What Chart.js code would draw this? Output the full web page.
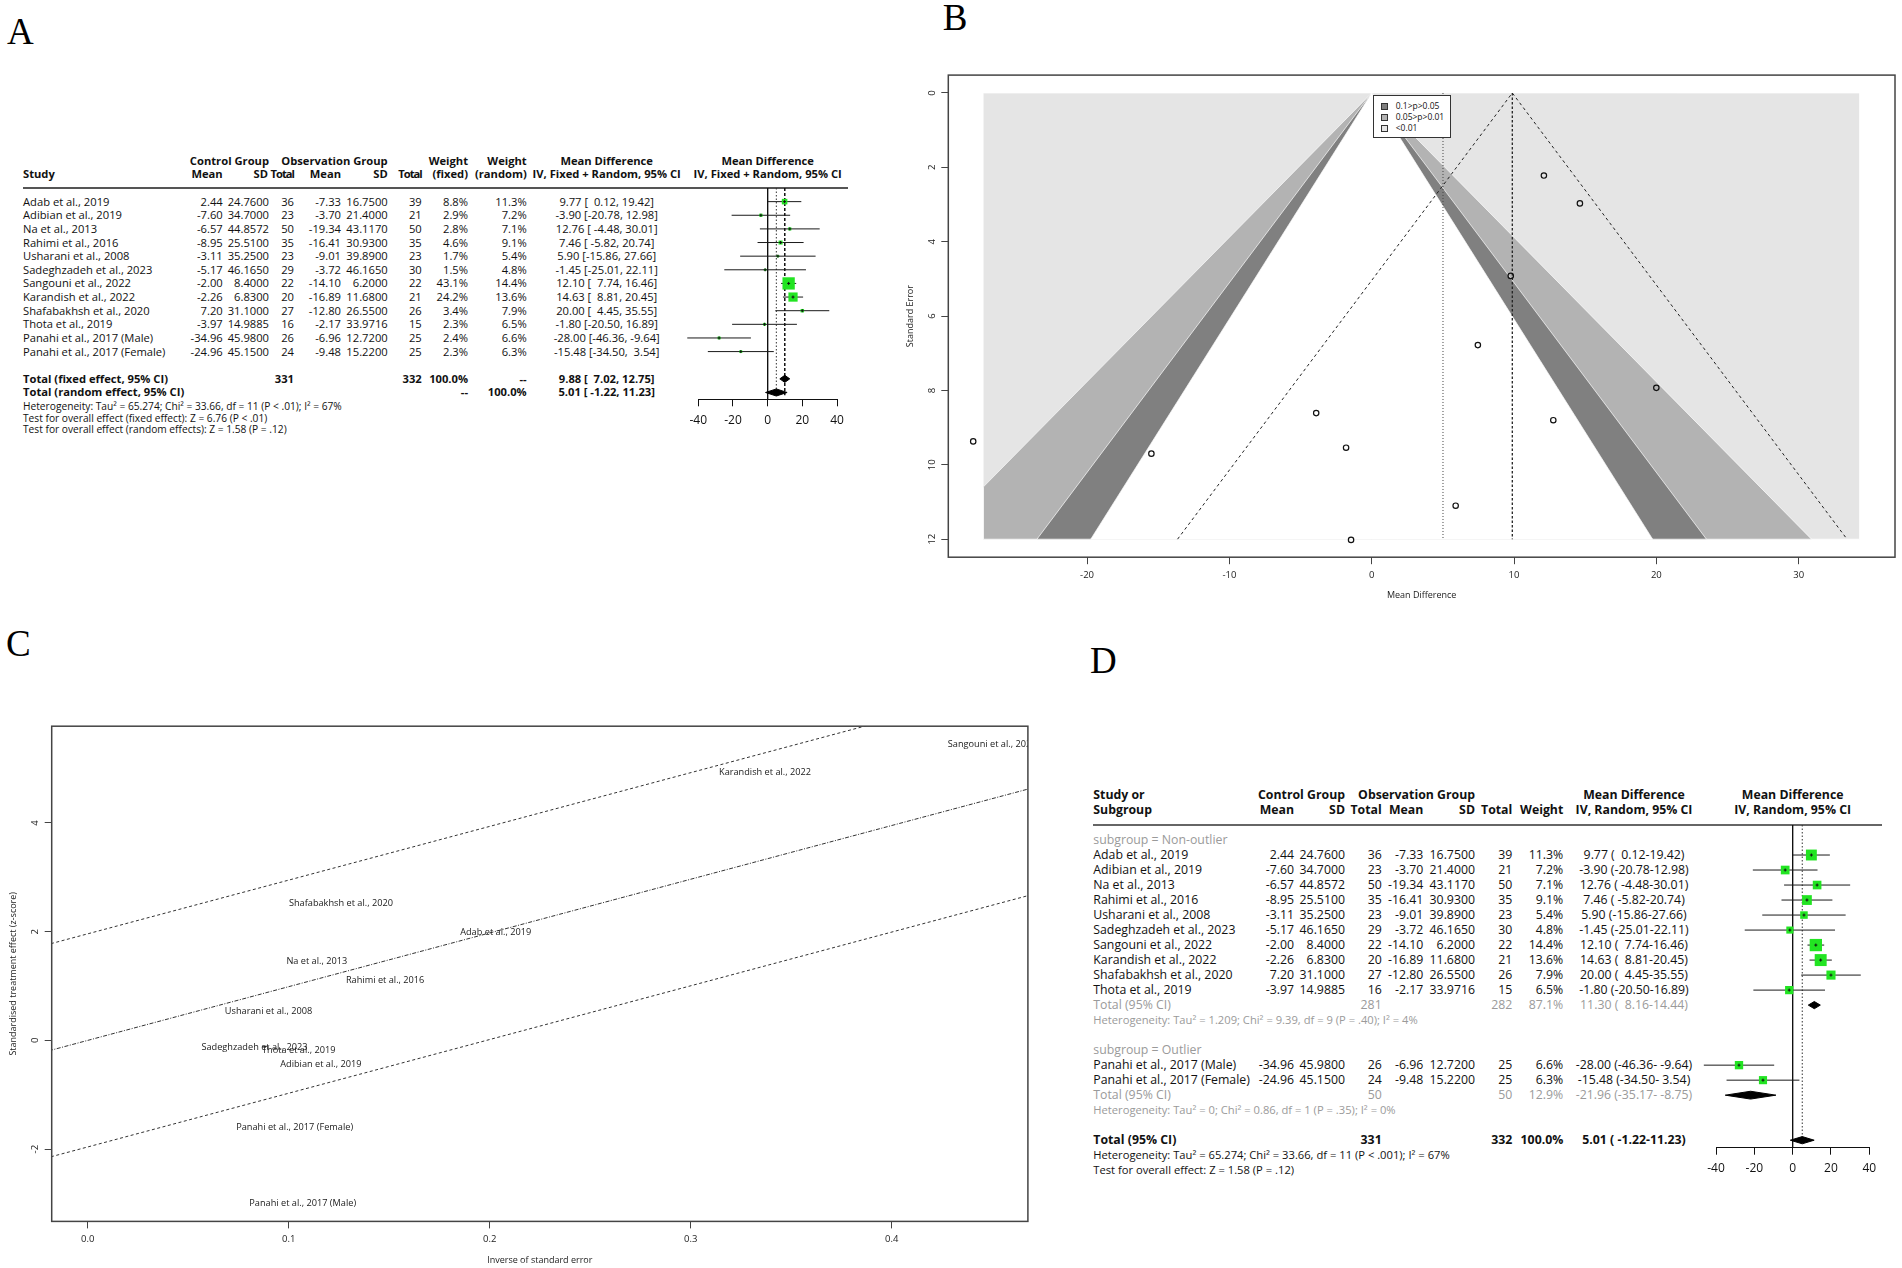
<!DOCTYPE html>
<html><head><meta charset="utf-8">
<script src="https://cdn.jsdelivr.net/npm/chart.js@4.4.1/dist/chart.umd.min.js"></script>
<style>
html,body{margin:0;padding:0;background:#fff;}
#root{position:relative;width:1902px;height:1268px;overflow:hidden;background:#fff;font-family:'Open Sans',sans-serif;}
.t{position:absolute;white-space:pre;line-height:20px;}
canvas{position:absolute;}
</style></head><body><div id="root"></div>
<script>
// ---------------- DATA ----------------
const studies = ['Adab et al., 2019','Adibian et al., 2019','Na et al., 2013','Rahimi et al., 2016','Usharani et al., 2008','Sadeghzadeh et al., 2023','Sangouni et al., 2022','Karandish et al., 2022','Shafabakhsh et al., 2020','Thota et al., 2019','Panahi et al., 2017 (Male)','Panahi et al., 2017 (Female)'];
const ctrlMean = [2.44,-7.60,-6.57,-8.95,-3.11,-5.17,-2.00,-2.26,7.20,-3.97,-34.96,-24.96];
const ctrlSD = [24.7600,34.7000,44.8572,25.5100,35.2500,46.1650,8.4000,6.8300,31.1000,14.9885,45.9800,45.1500];
const ctrlN = [36,23,50,35,23,29,22,20,27,16,26,24];
const obsMean = [-7.33,-3.70,-19.34,-16.41,-9.01,-3.72,-14.10,-16.89,-12.80,-2.17,-6.96,-9.48];
const obsSD = [16.7500,21.4000,43.1170,30.9300,39.8900,46.1650,6.2000,11.6800,26.5500,33.9716,12.7200,15.2200];
const obsN = [39,21,50,35,23,30,22,21,26,15,25,25];
const wFixed = [8.8,2.9,2.8,4.6,1.7,1.5,43.1,24.2,3.4,2.3,2.4,2.3];
const wRandom = [11.3,7.2,7.1,9.1,5.4,4.8,14.4,13.6,7.9,6.5,6.6,6.3];
const md = [9.77,-3.90,12.76,7.46,5.90,-1.45,12.10,14.63,20.00,-1.80,-28.00,-15.48];
const ciLo = [0.12,-20.78,-4.48,-5.82,-15.86,-25.01,7.74,8.81,4.45,-20.50,-46.36,-34.50];
const ciHi = [19.42,12.98,30.01,20.74,27.66,22.11,16.46,20.45,35.55,16.89,-9.64,3.54];
// pooled: 0 fixed, 1 random, 2 non-outlier subgroup, 3 outlier subgroup
const pooledMD = [9.88,5.01,11.30,-21.96];
const pooledLo = [7.02,-1.22,8.16,-35.17];
const pooledHi = [12.75,11.23,14.44,-8.75];
// funnel (panel B): standard errors
const seVals = [4.92,8.61,8.80,6.78,11.10,12.02,2.22,2.97,7.93,9.54,9.37,9.70];
const funnelLight = [[-27.3,0],[34.3,0],[34.3,12],[-27.3,12],[-27.3,0]];
const funnelMid = [[0,0],[-27.3,10.6],[-27.3,12],[30.9,12],[0,0]];
const funnelDark = [[0,0],[-23.52,12],[23.52,12],[0,0]];
const funnelWhite = [[0,0],[-19.74,12],[19.74,12],[0,0]];
const funnelDashed = [[-13.64,12],[9.88,0],[33.4,12]];
const legendLabels = ['0.1>p>0.05','0.05>p>0.01','<0.01'];
const legendColors = ['#7f7f7f','#b2b2b2','#e5e5e5'];
// radial (panel C)
const radialX = [0.203,0.116,0.114,0.148,0.090,0.083,0.450,0.337,0.126,0.105,0.107,0.103];
const radialZ = [1.99,-0.45,1.45,1.10,0.53,-0.12,5.45,4.93,2.52,-0.19,-2.99,-1.60];
const radialCenter = [[-0.05,-0.494],[0.5,4.94]];
const radialUpper = [[-0.05,1.466],[0.5,6.90]];
const radialLower = [[-0.05,-2.454],[0.5,2.98]];
const forestRange = [-40,40];
const funnelRangeX = [-29.75,36.77];
const funnelRangeY = [-0.481,12.485];
const radialRangeX = [-0.0179,0.4678];
const radialRangeY = [-3.329,5.779];

// ---------------- HELPERS ----------------
const root = document.getElementById('root');
const GREEN = '#22e422';
const GRAY = '#9a9a9a';
function txt(x, y, s, o = {}) {
  const d = document.createElement('div');
  d.className = 't';
  d.textContent = s;
  d.style.fontSize = (o.size || 11.2) + 'px';
  d.style.fontWeight = o.weight || 400;
  d.style.color = o.color || '#111';
  if (o.family) d.style.fontFamily = o.family;
  if (o.ls) d.style.letterSpacing = o.ls + 'px';
  d.style.top = (y - 10) + 'px';
  d.style.left = x + 'px';
  const a = o.align || 'left';
  if (a === 'right') d.style.transform = 'translateX(-100%)';
  else if (a === 'center') d.style.transform = 'translateX(-50%)';
  root.appendChild(d);
  return d;
}
function box(x, y, w, h, css) {
  const d = document.createElement('div');
  d.style.cssText = `position:absolute;left:${x}px;top:${y}px;width:${w}px;height:${h}px;${css}`;
  root.appendChild(d);
  return d;
}
function mkCanvas(l, t, w, h) {
  const c = document.createElement('canvas');
  c.width = w; c.height = h;
  c.style.left = l + 'px'; c.style.top = t + 'px';
  c.style.width = w + 'px'; c.style.height = h + 'px';
  root.appendChild(c);
  return c;
}
const f2 = v => v.toFixed(2);
const pad = (s, n) => s.padStart(n, ' ');
const ciA = (m, l, h) => `${f2(m)} [${pad(f2(l), 6)}, ${pad(f2(h), 5)}]`;
const ciD = (m, l, h) => { let hs = pad(f2(h), 5); if (h < 0) hs = ' ' + hs; return `${f2(m)} (${pad(f2(l), 6)}-${hs})`; };
const pct = v => v.toFixed(1) + '%';

Chart.defaults.font.family = "'Open Sans', sans-serif";
Chart.defaults.color = '#222';

// ---------------- PANEL LABELS ----------------
const serif = "'Liberation Serif', 'DejaVu Serif', serif";
txt(7, 32, 'A', {size: 37, family: serif, color: '#000'});
txt(942.7, 18, 'B', {size: 37, family: serif, color: '#000'});
txt(6, 644, 'C', {size: 37, family: serif, color: '#000'});
txt(1090, 661, 'D', {size: 37, family: serif, color: '#000'});

// ---------------- PANEL A TABLE ----------------
const yA = r => 188 + r * 13.63;
const AF = 10.2;
const B = {weight: 700};
txt(269, 160.7, 'Control Group', {...B, align: 'right'});
txt(387.7, 160.7, 'Observation Group', {...B, align: 'right'});
txt(468, 160.7, 'Weight', {...B, align: 'right'});
txt(526.7, 160.7, 'Weight', {...B, align: 'right'});
txt(606.7, 160.7, 'Mean Difference', {...B, align: 'center'});
txt(767.7, 160.7, 'Mean Difference', {...B, align: 'center'});
txt(23, 174, 'Study', B);
[['Mean',222.7],['SD',268],['Total',294],['Mean',341],['SD',387.7],['Total',421.7],['(fixed)',468],['(random)',526.7]].forEach(([s,x]) => txt(x, 174, s, {...B, align: 'right', ls: s === 'Total' ? -1 : 0}));
txt(606.7, 174, 'IV, Fixed + Random, 95% CI', {...B, align: 'center'});
txt(767.7, 174, 'IV, Fixed + Random, 95% CI', {...B, align: 'center'});
box(23, 187, 825, 2, 'background:#555;');
studies.forEach((s, i) => {
  const y = yA(i + 1);
  txt(23, y, s);
  txt(222.7, y, f2(ctrlMean[i]), {align: 'right'});
  txt(269, y, ctrlSD[i].toFixed(4), {align: 'right'});
  txt(294, y, String(ctrlN[i]), {align: 'right'});
  txt(341, y, f2(obsMean[i]), {align: 'right'});
  txt(387.7, y, obsSD[i].toFixed(4), {align: 'right'});
  txt(421.7, y, String(obsN[i]), {align: 'right'});
  txt(468, y, pct(wFixed[i]), {align: 'right'});
  txt(526.7, y, pct(wRandom[i]), {align: 'right'});
  txt(606.7, y, ciA(md[i], ciLo[i], ciHi[i]), {align: 'center'});
});
const sumN1 = 331, sumN2 = 332;
let y14 = yA(14), y15 = yA(15);
txt(23, y14, 'Total (fixed effect, 95% CI)', B);
txt(294, y14, String(sumN1), {...B, align: 'right'});
txt(421.7, y14, String(sumN2), {...B, align: 'right'});
txt(468, y14, '100.0%', {...B, align: 'right'});
txt(526.7, y14, '--', {...B, align: 'right'});
txt(606.7, y14, ciA(pooledMD[0], pooledLo[0], pooledHi[0]), {...B, align: 'center'});
txt(23, y15, 'Total (random effect, 95% CI)', B);
txt(468, y15, '--', {...B, align: 'right'});
txt(526.7, y15, '100.0%', {...B, align: 'right'});
txt(606.7, y15, ciA(pooledMD[1], pooledLo[1], pooledHi[1]), {...B, align: 'center'});
txt(23, 405.7, 'Heterogeneity: Tau² = 65.274; Chi² = 33.66, df = 11 (P < .01); I² = 67%', {size: AF});
txt(23, 417.7, 'Test for overall effect (fixed effect): Z = 6.76 (P < .01)', {size: AF});
txt(23, 429, 'Test for overall effect (random effects): Z = 1.58 (P = .12)', {size: AF});

// ---------------- FOREST BUILDER ----------------
function forestChart(el, o) {
  const ds = [];
  o.vlines.forEach(v => ds.push({data: [{x: v.x, y: v.y0}, {x: v.x, y: v.y1}], showLine: true, borderColor: v.color, borderWidth: v.w, borderDash: v.dash || [], pointRadius: 0, order: 6, clip: false}));
  o.rows.forEach((r, i) => ds.push({data: [{x: o.lo[i], y: r}, {x: o.hi[i], y: r}], showLine: true, borderColor: '#1a1a1a', borderWidth: 1, pointRadius: 0, order: 5, clip: false}));
  const pts = o.rows.map((r, i) => ({x: o.md[i], y: r}));
  ds.push({data: pts, pointStyle: 'rect', pointRadius: o.sizes.map(s => s / Math.SQRT2), backgroundColor: GREEN, borderWidth: 0, order: 4, clip: false});
  ds.push({data: pts, pointStyle: 'cross', pointRadius: 1.5, borderColor: '#111', borderWidth: 1, order: 3, clip: false});
  o.diamonds.forEach(d => ds.push({data: [{x: d.l, y: d.r}, {x: d.m, y: d.r - d.hh}, {x: d.u, y: d.r}, {x: d.m, y: d.r + d.hh}, {x: d.l, y: d.r}], showLine: true, fill: 'shape', backgroundColor: '#000', borderColor: '#000', borderWidth: 1, pointRadius: 0, order: 1}));
  return new Chart(el, {
    type: 'scatter',
    data: {datasets: ds},
    options: {
      responsive: false, animation: false, events: [],
      layout: {padding: o.pad},
      plugins: {legend: {display: false}, tooltip: {enabled: false}},
      scales: {
        x: {type: 'linear', min: forestRange[0], max: forestRange[1],
            ticks: {stepSize: 20, font: {size: 12}, color: '#111', padding: o.tp},
            grid: {drawOnChartArea: false, drawTicks: true, tickLength: 7, tickColor: '#111', lineWidth: 1},
            border: {display: true, color: '#111', width: 1},
            afterFit: s => { s.height = o.hx; }},
        y: {type: 'linear', display: false, min: 0, max: o.ymax, reverse: true}
      }
    }
  });
}

// Panel A forest
forestChart(mkCanvas(680, 178, 180, 254), {
  rows: studies.map((_, i) => i + 1), md, lo: ciLo, hi: ciHi,
  sizes: wFixed.map(w => 12.3 * Math.sqrt(w / 43.1)),
  diamonds: [{m: pooledMD[0], l: pooledLo[0], u: pooledHi[0], r: 14, hh: 0.26}, {m: pooledMD[1], l: pooledLo[1], u: pooledHi[1], r: 15, hh: 0.26}],
  vlines: [{x: 0, y0: 0, y1: 15.5, color: '#111', w: 1}, {x: pooledMD[1], y0: 0, y1: 15.2, color: '#333', w: 1, dash: [1.5, 2]}, {x: pooledMD[0], y0: 0, y1: 15.2, color: '#111', w: 1.5, dash: [3, 2]}],
  pad: {top: 10, left: 18.3, right: 23, bottom: 0.7}, hx: 32, tp: 7, ymax: 15.5
});

// ---------------- PANEL D TABLE ----------------
const yD = r => 825 + r * 15;
const DS = 12.3, DF = 11.2;
const DB = {size: DS, weight: 700};
txt(1093.3, 795, 'Study or', DB);
txt(1093.3, 810, 'Subgroup', DB);
txt(1345, 795, 'Control Group', {...DB, align: 'right'});
txt(1475, 795, 'Observation Group', {...DB, align: 'right'});
txt(1634, 795, 'Mean Difference', {...DB, align: 'center'});
txt(1792.7, 795, 'Mean Difference', {...DB, align: 'center'});
[['Mean',1294],['SD',1345],['Total',1381.7],['Mean',1423.3],['SD',1475],['Total',1512.3],['Weight',1563.3]].forEach(([s,x]) => txt(x, 810, s, {...DB, align: 'right'}));
txt(1634, 810, 'IV, Random, 95% CI', {...DB, align: 'center'});
txt(1792.7, 810, 'IV, Random, 95% CI', {...DB, align: 'center'});
box(1093, 824, 789, 2, 'background:#666;');
const rowD = i => (i < 10 ? i + 2 : i + 6);
txt(1093.3, yD(1), 'subgroup = Non-outlier', {size: DS, color: GRAY});
txt(1093.3, yD(15), 'subgroup = Outlier', {size: DS, color: GRAY});
studies.forEach((s, i) => {
  const y = yD(rowD(i));
  const o = {size: DS};
  txt(1093.3, y, s, o);
  txt(1294, y, f2(ctrlMean[i]), {...o, align: 'right'});
  txt(1345, y, ctrlSD[i].toFixed(4), {...o, align: 'right'});
  txt(1381.7, y, String(ctrlN[i]), {...o, align: 'right'});
  txt(1423.3, y, f2(obsMean[i]), {...o, align: 'right'});
  txt(1475, y, obsSD[i].toFixed(4), {...o, align: 'right'});
  txt(1512.3, y, String(obsN[i]), {...o, align: 'right'});
  txt(1563.3, y, pct(wRandom[i]), {...o, align: 'right'});
  txt(1634, y, ciD(md[i], ciLo[i], ciHi[i]), {...o, align: 'center'});
});
const subN1 = [281, 50], subN2 = [282, 50], subW = [87.1, 12.9];
[[12, 0, 2], [18, 1, 3]].forEach(([r, k, p]) => {
  const y = yD(r), o = {size: DS, color: GRAY};
  txt(1093.3, y, 'Total (95% CI)', o);
  txt(1381.7, y, String(subN1[k]), {...o, align: 'right'});
  txt(1512.3, y, String(subN2[k]), {...o, align: 'right'});
  txt(1563.3, y, pct(subW[k]), {...o, align: 'right'});
  txt(1634, y, ciD(pooledMD[p], pooledLo[p], pooledHi[p]), {...o, align: 'center'});
});
txt(1093.3, yD(13), 'Heterogeneity: Tau² = 1.209; Chi² = 9.39, df = 9 (P = .40); I² = 4%', {size: DF, color: GRAY});
txt(1093.3, yD(19), 'Heterogeneity: Tau² = 0; Chi² = 0.86, df = 1 (P = .35); I² = 0%', {size: DF, color: GRAY});
txt(1093.3, yD(21), 'Total (95% CI)', DB);
txt(1381.7, yD(21), String(sumN1), {...DB, align: 'right'});
txt(1512.3, yD(21), String(sumN2), {...DB, align: 'right'});
txt(1563.3, yD(21), '100.0%', {...DB, align: 'right'});
txt(1634, yD(21), ciD(pooledMD[1], pooledLo[1], pooledHi[1]), {...DB, align: 'center'});
txt(1093.3, yD(22), 'Heterogeneity: Tau² = 65.274; Chi² = 33.66, df = 11 (P < .001); I² = 67%', {size: DF});
txt(1093.3, yD(23), 'Test for overall effect: Z = 1.58 (P = .12)', {size: DF});

// Panel D forest
forestChart(mkCanvas(1690, 815, 212, 364), {
  rows: studies.map((_, i) => rowD(i)), md, lo: ciLo, hi: ciHi,
  sizes: wRandom.map(w => 12.3 * Math.sqrt(w / 14.4)),
  diamonds: [{m: pooledMD[2], l: pooledLo[2], u: pooledHi[2], r: 12, hh: 0.24}, {m: pooledMD[3], l: pooledLo[3], u: pooledHi[3], r: 18, hh: 0.26}, {m: pooledMD[1], l: pooledLo[1], u: pooledHi[1], r: 21, hh: 0.24}],
  vlines: [{x: 0, y0: 0, y1: 21.5, color: '#111', w: 1}, {x: pooledMD[1], y0: 0, y1: 21.2, color: '#333', w: 1, dash: [1.5, 2]}],
  pad: {top: 10, left: 26, right: 32.7, bottom: 1.3}, hx: 30, tp: 7, ymax: 21.5
});

// ---------------- SHARED PLUGINS (B, C) ----------------
const framePlugin = {id: 'frame', afterDraw(c) {
  const a = c.chartArea, ctx = c.ctx;
  ctx.save(); ctx.strokeStyle = '#444'; ctx.lineWidth = 1.5;
  ctx.strokeRect(a.left, a.top, a.right - a.left, a.bottom - a.top);
  ctx.restore();
}};
const yRotPlugin = {id: 'yRot', afterDraw(c) {
  const s = c.scales.y, ctx = c.ctx, x = c.chartArea.left - 16.5;
  ctx.save(); ctx.font = "9.5px 'Open Sans'"; ctx.fillStyle = '#222';
  ctx.textAlign = 'center'; ctx.textBaseline = 'middle';
  s.ticks.forEach(t => {
    const y = s.getPixelForValue(t.value);
    ctx.save(); ctx.translate(x, y); ctx.rotate(-Math.PI / 2); ctx.fillText(t.label, 0, 0); ctx.restore();
  });
  ctx.restore();
}};
const labelPlugin = {id: 'ptLabels', afterDatasetsDraw(c) {
  const ctx = c.ctx, a = c.chartArea;
  c.data.datasets.forEach((ds, di) => {
    if (!ds.labels) return;
    const meta = c.getDatasetMeta(di);
    ctx.save();
    ctx.beginPath(); ctx.rect(a.left, a.top, a.right - a.left, a.bottom - a.top); ctx.clip();
    ctx.font = "9.2px 'Open Sans'"; ctx.fillStyle = '#1a1a1a';
    ctx.textAlign = 'center'; ctx.textBaseline = 'middle';
    meta.data.forEach((pt, i) => ctx.fillText(ds.labels[i], pt.x, pt.y));
    ctx.restore();
  });
}};
const toPts = arr => arr.map(([x, y]) => ({x, y}));
const poly = (arr, col, ord) => ({data: toPts(arr), showLine: true, fill: 'shape', backgroundColor: col, borderColor: 'rgba(255,255,255,0.85)', borderWidth: 0.8, pointRadius: 0, order: ord});
const axisCommon = () => ({grid: {drawOnChartArea: false, drawTicks: true, tickLength: 7, tickColor: '#444', lineWidth: 1}, border: {display: false}});

// ---------------- PANEL B FUNNEL ----------------
new Chart(mkCanvas(890, 60, 1012, 560), {
  type: 'scatter',
  data: {datasets: [
    poly(funnelLight, '#e5e5e5', 20),
    poly(funnelMid, '#b3b3b3', 19),
    poly(funnelDark, '#808080', 18),
    poly(funnelWhite, '#ffffff', 17),
    {data: toPts(funnelDashed), showLine: true, borderColor: '#222', borderWidth: 1, borderDash: [3, 3], pointRadius: 0, order: 10},
    {data: [{x: pooledMD[0], y: 0}, {x: pooledMD[0], y: 12}], showLine: true, borderColor: '#222', borderWidth: 1.3, borderDash: [2.5, 2], pointRadius: 0, order: 9},
    {data: [{x: pooledMD[1], y: 0}, {x: pooledMD[1], y: 12}], showLine: true, borderColor: '#444', borderWidth: 1, borderDash: [1, 2], pointRadius: 0, order: 8},
    {data: md.map((m, i) => ({x: m, y: seVals[i]})), pointStyle: 'circle', pointRadius: 2.7, borderWidth: 1.2, borderColor: '#111', backgroundColor: 'rgba(0,0,0,0)', order: 1}
  ]},
  options: {
    responsive: false, animation: false, events: [],
    layout: {padding: {top: 15.1, right: 7, left: 10.6, bottom: 15}},
    plugins: {legend: {display: false}, tooltip: {enabled: false}},
    scales: {
      x: {type: 'linear', min: funnelRangeX[0], max: funnelRangeX[1], ...axisCommon(),
          ticks: {stepSize: 10, includeBounds: false, font: {size: 9.5}, color: '#222', padding: 5.1},
          title: {display: true, text: 'Mean Difference', font: {size: 9}, color: '#222', padding: {top: 4, bottom: 4}},
          afterFit: s => { s.height = 47.8; }},
      y: {type: 'linear', min: funnelRangeY[0], max: funnelRangeY[1], reverse: true, ...axisCommon(),
          ticks: {stepSize: 2, includeBounds: false, display: false},
          title: {display: true, text: 'Standard Error', font: {size: 9}, color: '#222', padding: {top: 4, bottom: 4}},
          afterFit: s => { s.width = 47.7; }}
    }
  },
  plugins: [framePlugin, yRotPlugin]
});
// legend of panel B
box(1372.7, 94.8, 76.3, 41.5, 'border:1px solid #333;background:#fff;');
legendLabels.forEach((s, i) => {
  const y = 106 + i * 10.8;
  box(1381, y - 3, 5, 5, `background:${legendColors[i]};border:1px solid #333;`);
  txt(1395.7, y, s, {size: 8.5, color: '#111'});
});

// ---------------- PANEL C RADIAL ----------------
new Chart(mkCanvas(0, 700, 1045, 570), {
  type: 'scatter',
  data: {datasets: [
    {data: toPts(radialUpper), showLine: true, borderColor: '#333', borderWidth: 1, borderDash: [3, 2.5], pointRadius: 0, order: 5},
    {data: toPts(radialCenter), showLine: true, borderColor: '#333', borderWidth: 1, borderDash: [4, 1.5, 1, 1.5], pointRadius: 0, order: 4},
    {data: toPts(radialLower), showLine: true, borderColor: '#333', borderWidth: 1, borderDash: [3, 2.5], pointRadius: 0, order: 3},
    {data: radialX.map((x, i) => ({x, y: radialZ[i]})), labels: studies, pointRadius: 0, order: 1}
  ]},
  options: {
    responsive: false, animation: false, events: [],
    layout: {padding: {top: 26.2, right: 17.1, left: 3.6, bottom: 0.6}},
    plugins: {legend: {display: false}, tooltip: {enabled: false}},
    scales: {
      x: {type: 'linear', min: radialRangeX[0], max: radialRangeX[1], ...axisCommon(),
          ticks: {stepSize: 0.1, includeBounds: false, font: {size: 9.5}, color: '#222', padding: 4.7, callback: v => Number(v).toFixed(1)},
          title: {display: true, text: 'Inverse of standard error', font: {size: 9}, color: '#222', padding: {top: 4, bottom: 4}},
          afterFit: s => { s.height = 48; }},
      y: {type: 'linear', min: radialRangeY[0], max: radialRangeY[1], ...axisCommon(),
          ticks: {stepSize: 2, includeBounds: false, display: false},
          title: {display: true, text: 'Standardised treatment effect (z-score)', font: {size: 9}, color: '#222', padding: {top: 4, bottom: 4}},
          afterFit: s => { s.width = 48.1; }}
    }
  },
  plugins: [framePlugin, yRotPlugin, labelPlugin]
});
</script></body></html>
